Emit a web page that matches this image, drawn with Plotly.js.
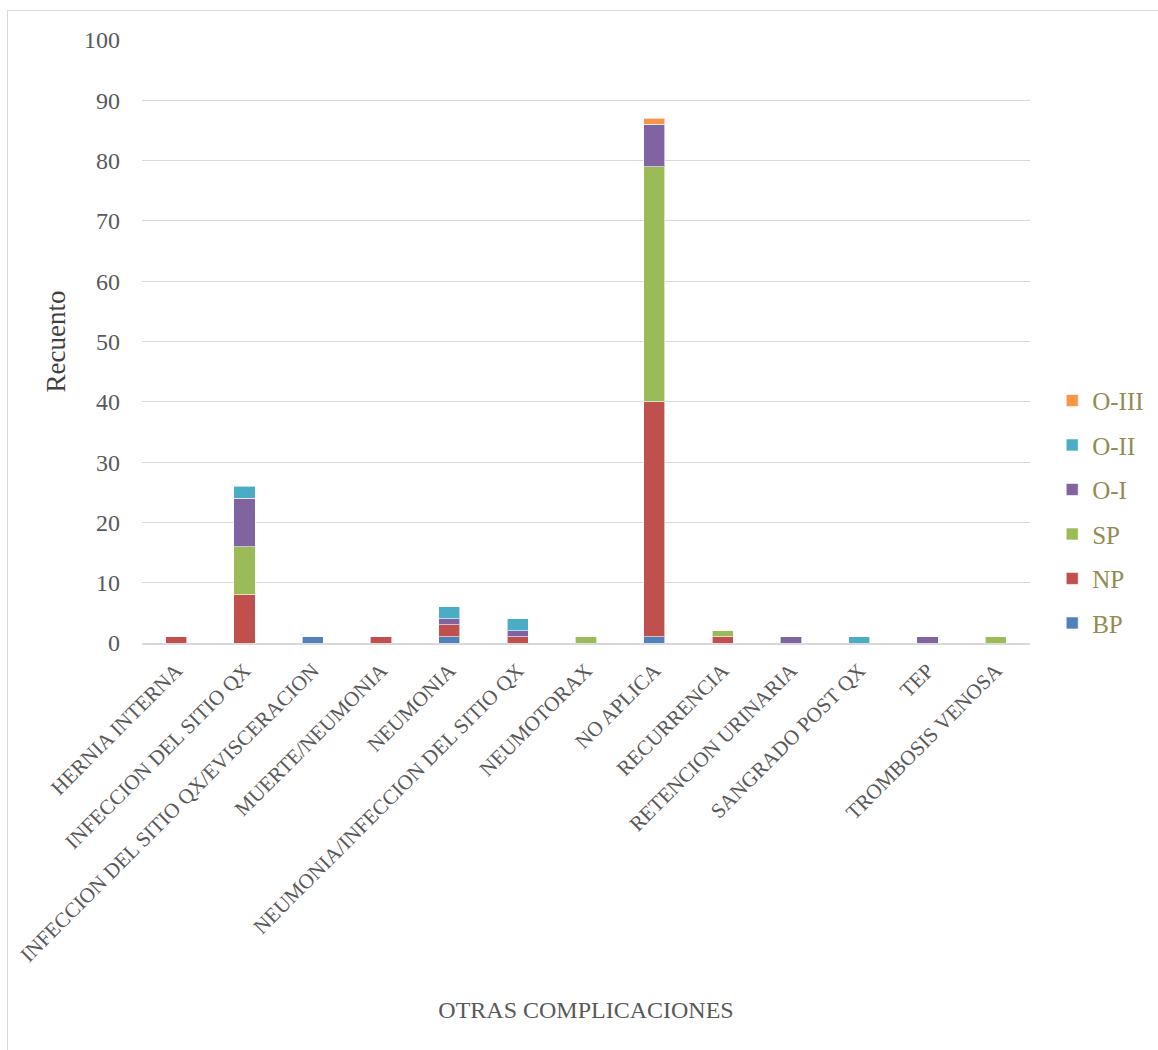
<!DOCTYPE html>
<html><head><meta charset="utf-8">
<script src="https://cdn.plot.ly/plotly-3.0.1.min.js"></script>
<style>body{margin:0;background:#fff}#wrap{position:relative;width:1158px;height:1050px;overflow:hidden}#frame{position:absolute;left:7px;top:10px;width:1200px;height:1100px;border:1px solid #d9d9d9;pointer-events:none}</style>
</head><body><div id="wrap"><div id="chart" style="width:1158px;height:1050px"></div><div id="frame"></div></div>
<script>
const categories = ["HERNIA INTERNA","INFECCION DEL SITIO QX","INFECCION DEL SITIO QX/EVISCERACION","MUERTE/NEUMONIA","NEUMONIA","NEUMONIA/INFECCION DEL SITIO QX","NEUMOTORAX","NO APLICA","RECURRENCIA","RETENCION URINARIA","SANGRADO POST QX","TEP","TROMBOSIS VENOSA"];
const BP   = [0,0,1,0,1,0,0,1,0,0,0,0,0];
const NP   = [1,8,0,1,2,1,0,39,1,0,0,0,0];
const SP   = [0,8,0,0,0,0,1,39,1,0,0,0,1];
const OI   = [0,8,0,0,1,1,0,7,0,1,0,1,0];
const OII  = [0,2,0,0,2,2,0,0,0,0,1,0,0];
const OIII = [0,0,0,0,0,0,0,1,0,0,0,0,0];
const seriesNames = ["BP","NP","SP","O-I","O-II","O-III"];
const seriesVals = [BP,NP,SP,OI,OII,OIII];
const colors = ["#4f81bd","#c0504d","#9bbb59","#8064a2","#4bacc6","#f79646"];
const traces = seriesNames.map((n,i)=>({
  type:'bar', name:n, x:categories, y:seriesVals[i].map(v=>v===0?null:v),
  marker:{color:colors[i], line:{color:'rgba(255,255,255,0.6)', width:1}},
  legendgroup:n, legendrank:100-i*10, hoverinfo:'x+y+name'
}));
const layout = {
  width:1158, height:1050, barmode:'stack', bargap:0.69,
  paper_bgcolor:'#fff', plot_bgcolor:'#fff',
  margin:{l:142, r:128, t:40, b:407, autoexpand:false},
  font:{family:'Liberation Serif, DejaVu Serif, serif', color:'#595959'},
  xaxis:{type:'category', tickangle:-45, tickfont:{size:21, color:'#595959'}, showgrid:false,
    showline:true, linecolor:'#d9d9d9', linewidth:2, ticks:'', ticklabelstandoff:5,
    title:{text:'OTRAS COMPLICACIONES', font:{size:24, color:'#595959'}, standoff:35}},
  yaxis:{range:[0,100], dtick:10, tickfont:{size:24, color:'#595959'}, gridcolor:'#d9d9d9', gridwidth:1,
    zeroline:false, showline:false, ticklabelstandoff:21,
    title:{text:'Recuento', font:{size:27, color:'#404040'}, standoff:10}},
  legend:{x:1.025, y:0.44, xanchor:'left', yanchor:'top', traceorder:'grouped', tracegroupgap:9,
    font:{size:25, color:'#948a54'}, itemwidth:30},
  showlegend:true
};
Plotly.newPlot('chart', traces, layout, {displayModeBar:false});
</script></body></html>
